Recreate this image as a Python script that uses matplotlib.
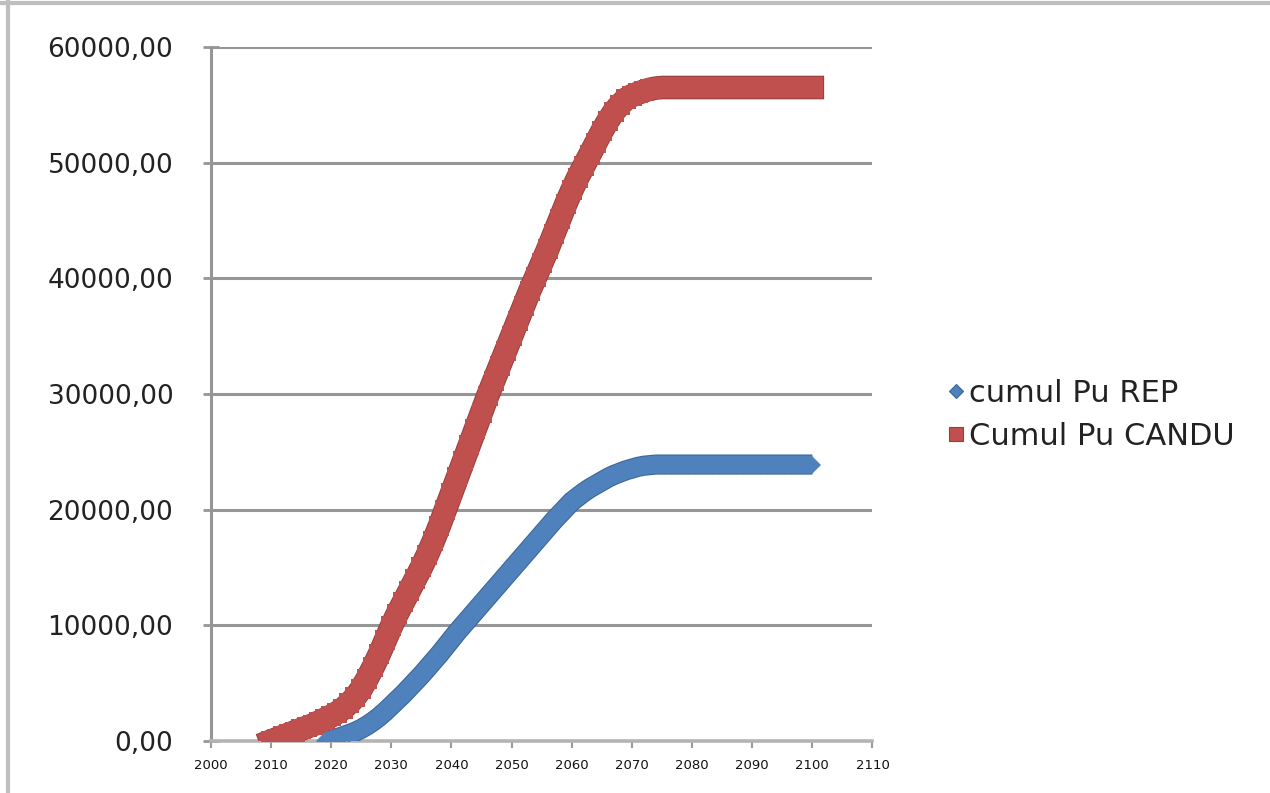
import numpy as np
import matplotlib.pyplot as plt
import matplotlib.patheffects as pe
from matplotlib.lines import Line2D
from matplotlib.ticker import FuncFormatter

# one point per year for each fleet
years_rep = np.arange(2019, 2101)
years_candu = np.arange(2010, 2101)

# cumulated plutonium, REP fleet
cumul_rep = [
    0,
    100, 250, 420, 600, 800, 1050, 1350, 1700, 2100, 2550,
    3050, 3550, 4050, 4600, 5150, 5700, 6300, 6900, 7500, 8150,
    8800, 9450, 10050, 10650, 11250, 11850, 12450, 13050, 13650, 14250,
    14850, 15450, 16050, 16650, 17250, 17850, 18450, 19050, 19600, 20150,
    20700, 21100, 21500, 21850, 22150, 22450, 22750, 23000, 23200, 23400,
    23550, 23700, 23800, 23850, 23900, 23900, 23900, 23900, 23900, 23900,
    23900, 23900, 23900, 23900, 23900, 23900, 23900, 23900, 23900, 23900,
    23900, 23900, 23900, 23900, 23900, 23900, 23900, 23900, 23900, 23900,
    23900,
]

# cumulated plutonium, CANDU fleet
cumul_candu = [
    0, 200, 400, 600, 800, 1000, 1200, 1400, 1650, 1900,
    2150, 2450, 2800, 3250, 3800, 4500, 5400, 6400, 7500, 8700,
    9900, 11000, 12000, 13000, 14000, 15000, 16100, 17300, 18600, 20000,
    21400, 22800, 24200, 25600, 27000, 28400, 29800, 31100, 32400, 33700,
    35000, 36300, 37600, 38900, 40100, 41300, 42500, 43800, 45100, 46400,
    47600, 48700, 49700, 50700, 51700, 52700, 53600, 54400, 55000, 55500,
    55800, 56000, 56200, 56350, 56450, 56500, 56500, 56500, 56500, 56500,
    56500, 56500, 56500, 56500, 56500, 56500, 56500, 56500, 56500, 56500,
    56500, 56500, 56500, 56500, 56500, 56500, 56500, 56500, 56500, 56500,
    56500,
]

labels = ['cumul Pu REP', 'Cumul Pu CANDU']
x_ticks = list(range(2000, 2111, 10))
y_ticks = list(range(0, 60001, 10000))

blue, blue_dark = '#4F81BD', '#3A6597'
red, red_dark = '#C0504D', '#95403D'
grid_col = '#969696'

fig = plt.figure(figsize=(12.7, 7.93), dpi=100)
ax = fig.add_axes([0.166, 0.0656, 0.521, 0.8751])

# each series is a wide band: a thick line with a dark rim, then the
# point markers in the fill colour on top of it
ax.plot(years_rep, cumul_rep, color=blue, linewidth=13, solid_capstyle='butt',
        solid_joinstyle='round',
        path_effects=[pe.Stroke(linewidth=14.5, foreground=blue_dark), pe.Normal()],
        zorder=3)
ax.plot(years_rep, cumul_rep, linestyle='none', marker='D', ms=9.5,
        mfc=blue, mew=0, zorder=3.1)
ax.plot(years_candu, cumul_candu, color=red, linewidth=15.5, solid_capstyle='projecting',
        solid_joinstyle='round',
        path_effects=[pe.Stroke(linewidth=17, foreground=red_dark), pe.Normal()],
        zorder=4)
ax.plot(years_candu, cumul_candu, linestyle='none', marker='s', ms=14.5,
        mfc=red, mew=0, zorder=4.1)

ax.set_xlim(2000, 2110)
ax.set_ylim(0, 60000)
ax.set_xticks(x_ticks)
ax.set_yticks(y_ticks)
ax.yaxis.set_major_formatter(FuncFormatter(lambda v, p: f'{v:.2f}'.replace('.', ',')))

ax.yaxis.grid(True, color=grid_col, linewidth=2.2)
ax.set_axisbelow(True)
for s in ['top', 'right']:
    ax.spines[s].set_visible(False)
ax.spines['left'].set_color(grid_col)
ax.spines['left'].set_linewidth(2.2)
ax.spines['bottom'].set_color('#B4B4B4')
ax.spines['bottom'].set_linewidth(2.6)

ax.tick_params(axis='y', direction='inout', length=12, width=2.0, color=grid_col,
               labelsize=19, labelcolor='#222222', pad=21)
ax.tick_params(axis='x', direction='out', length=5, width=1.5, color='#9A9A9A',
               labelsize=9.5, labelcolor='#111111', pad=8)

handles = [
    Line2D([], [], linestyle='none', marker='D', ms=7, mfc=blue, mec=blue_dark, mew=0.8),
    Line2D([], [], linestyle='none', marker='s', ms=10, mfc=red, mec=red_dark, mew=0.8),
]
leg = fig.legend(handles, labels, loc='center left',
                 bbox_to_anchor=(945 / 1270, 1 - 415 / 793),
                 frameon=False, fontsize=22, handlelength=0.7,
                 handletextpad=0.1, labelspacing=0.45, borderpad=0, borderaxespad=0)
for t in leg.get_texts():
    t.set_color('#222222')

# outer chart frame (top and left edges)
fig.add_artist(Line2D([0, 1], [0.996, 0.996], color='#BEBEBE', linewidth=3,
                      transform=fig.transFigure))
fig.add_artist(Line2D([0.0065, 0.0065], [0, 1], color='#BEBEBE', linewidth=3,
                      transform=fig.transFigure))

fig.savefig('out.png', dpi=100)
